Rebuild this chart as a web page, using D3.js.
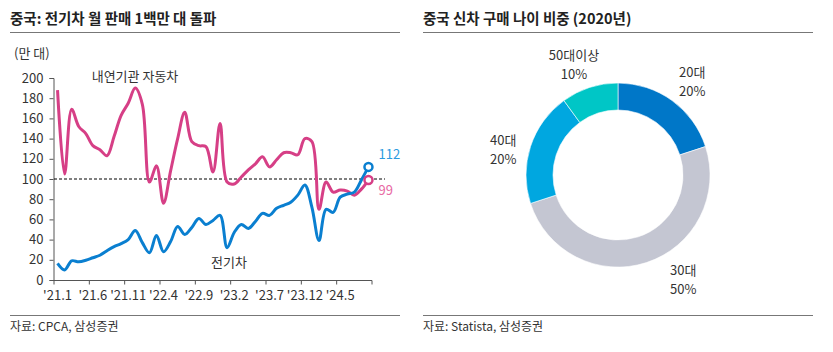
<!DOCTYPE html>
<html>
<head>
<meta charset="utf-8">
<script src="https://cdn.jsdelivr.net/npm/d3@7"></script>
<style>
  body { margin: 0; background: #fff; }
  text { font-family: "Noto Sans CJK KR", "Noto Sans", sans-serif; fill: #333; }
</style>
</head>
<body>
<div id="chart"></div>
<script>
// monthly sales, 10k units, '21.1 ~ '24.9
var ev = [16.5, 10, 19, 18, 19.5, 22, 24.5, 29, 33, 36, 40, 49,
          37, 27, 44, 28, 38, 53, 45, 52, 61, 55, 59, 64,
          32, 47, 55, 51, 58, 66, 64, 71, 74, 77, 84, 94,
          72, 39, 70, 67, 82, 85, 87, 99, 112];
var ice = [188, 105, 169, 152, 145, 133, 129, 123, 142, 163, 175, 190,
           174, 97, 113, 76, 108, 140, 166, 137, 133, 132, 107, 155,
           97, 95, 102, 109, 115, 122, 112, 119, 126, 126, 124, 140,
           137, 70, 97, 87, 89, 88, 84, 90, 99];
var tickLabels = ["'21.1", "'21.6", "'21.11", "'22.4", "'22.9", "'23.2", "'23.7", "'23.12", "'24.5"];
var yTicks = [0, 20, 40, 60, 80, 100, 120, 140, 160, 180, 200];

// donut
var ageGroups = ["20대", "30대", "40대", "50대이상"];
var ageShares = [20, 50, 20, 10];
var ageColors = ["#0077c8", "#c4c6d2", "#00a7e0", "#00c6c6"];

var months = [];
for (var y = 21; y <= 24; y++) {
  for (var m = 1; m <= 12; m++) {
    if (months.length < ev.length) months.push("'" + y + "." + m);
  }
}

var svg = d3.select("#chart").append("svg")
  .attr("width", 833)
  .attr("height", 352);

// ----- headers / footers
function panelFrame(x0, x1, title, source) {
  svg.append("text")
    .attr("x", x0).attr("y", 24)
    .style("font-size", "14.5px").style("font-weight", "bold")
    .style("fill", "#222")
    .text(title);
  svg.append("line")
    .attr("x1", x0).attr("x2", x1).attr("y1", 32.5).attr("y2", 32.5)
    .attr("stroke", "#777").attr("stroke-width", 1);
  svg.append("line")
    .attr("x1", x0).attr("x2", x1).attr("y1", 315.5).attr("y2", 315.5)
    .attr("stroke", "#777").attr("stroke-width", 1);
  svg.append("text")
    .attr("x", x0).attr("y", 331)
    .style("font-size", "12px")
    .text(source);
}
panelFrame(10, 400, "중국: 전기차 월 판매 1백만 대 돌파", "자료: CPCA, 삼성증권");
panelFrame(423, 813, "중국 신차 구매 나이 비중 (2020년)", "자료: Statista, 삼성증권");

// ----- line chart
var x = d3.scaleBand()
  .domain(months)
  .range([54, 372])
  .padding(0);

var yS = d3.scaleLinear()
  .domain([0, 200])
  .range([280, 78]);

svg.append("text")
  .attr("x", 14).attr("y", 58)
  .style("font-size", "13px")
  .text("(만 대)");

var yAxis = svg.append("g")
  .attr("transform", "translate(53.5,0)")
  .call(d3.axisLeft(yS).tickValues(yTicks).tickSize(4).tickPadding(6));
yAxis.selectAll("text").style("font-size", "13px").style("fill", "#333");
yAxis.selectAll("line, path").attr("stroke", "#555");

var xg = svg.append("g").attr("transform", "translate(0,280.5)");
xg.append("line")
  .attr("x1", 53.5).attr("x2", 372).attr("stroke", "#555");
var tickIdx = d3.range(0, months.length + 1, 5);
xg.selectAll(".xt").data(tickIdx).enter().append("line")
  .attr("x1", function(i) { return i < months.length ? x(months[i]) : x.range()[1]; })
  .attr("x2", function(i) { return i < months.length ? x(months[i]) : x.range()[1]; })
  .attr("y1", 0).attr("y2", 4)
  .attr("stroke", "#555");
xg.selectAll(".xl").data(tickLabels).enter().append("text")
  .attr("x", function(d) { return x(d) + x.bandwidth() / 2; })
  .attr("y", 19)
  .attr("text-anchor", "middle")
  .style("font-size", "13px")
  .text(function(d) { return d; });

// 100 reference line
svg.append("line")
  .attr("x1", 54).attr("x2", 385)
  .attr("y1", yS(100)).attr("y2", yS(100))
  .attr("stroke", "#000").attr("stroke-width", 1)
  .attr("stroke-dasharray", "3,2");

var line = function(vals) {
  return d3.line()
    .x(function(d, i) { return x(months[i]) + x.bandwidth() / 2; })
    .y(function(d) { return yS(d); })
    .curve(d3.curveCatmullRom)(vals);
};

svg.append("path")
  .attr("d", line(ice))
  .attr("fill", "none")
  .attr("stroke", "#d63f86")
  .attr("stroke-width", 3);
svg.append("path")
  .attr("d", line(ev))
  .attr("fill", "none")
  .attr("stroke", "#0a7fd0")
  .attr("stroke-width", 3);

var last = months.length - 1;
var lx = x(months[last]) + x.bandwidth() / 2;
svg.append("circle")
  .attr("cx", lx).attr("cy", yS(ice[last])).attr("r", 4)
  .attr("fill", "#fff").attr("stroke", "#d63f86").attr("stroke-width", 2.5);
svg.append("circle")
  .attr("cx", lx).attr("cy", yS(ev[last])).attr("r", 4)
  .attr("fill", "#fff").attr("stroke", "#0a7fd0").attr("stroke-width", 2.5);

svg.append("text")
  .attr("x", lx + 10).attr("y", yS(ev[last]) - 8)
  .style("font-size", "13px").style("fill", "#2b9be0")
  .text(ev[last]);
svg.append("text")
  .attr("x", lx + 10).attr("y", yS(ice[last]) + 15)
  .style("font-size", "13px").style("fill", "#e86aa4")
  .text(ice[last]);

svg.append("text")
  .attr("x", 135).attr("y", 81)
  .attr("text-anchor", "middle")
  .style("font-size", "13px")
  .text("내연기관 자동차");
svg.append("text")
  .attr("x", 229).attr("y", 267)
  .attr("text-anchor", "middle")
  .style("font-size", "13px")
  .text("전기차");

// ----- donut
var cx = 618, cy = 175;
var pie = d3.pie().sort(null).value(function(d) { return d; });
var arc = d3.arc().innerRadius(65).outerRadius(92);
var dg = svg.append("g").attr("transform", "translate(" + cx + "," + cy + ")");
dg.selectAll("path").data(pie(ageShares)).enter().append("path")
  .attr("d", arc)
  .attr("fill", function(d, i) { return ageColors[i]; })
  .attr("stroke", "#fff").attr("stroke-width", 0.6);

var labelPos = [
  {x: 679, y: 77, anchor: "start"},
  {x: 670, y: 275, anchor: "start"},
  {x: 490, y: 145, anchor: "start"},
  {x: 574, y: 60, anchor: "middle"}
];
ageGroups.forEach(function(g, i) {
  var t = svg.append("text")
    .attr("x", labelPos[i].x).attr("y", labelPos[i].y)
    .attr("text-anchor", labelPos[i].anchor)
    .style("font-size", "13px");
  t.append("tspan").attr("x", labelPos[i].x).text(g);
  t.append("tspan").attr("x", labelPos[i].x).attr("dy", 19).text(ageShares[i] + "%");
});
</script>
</body>
</html>
